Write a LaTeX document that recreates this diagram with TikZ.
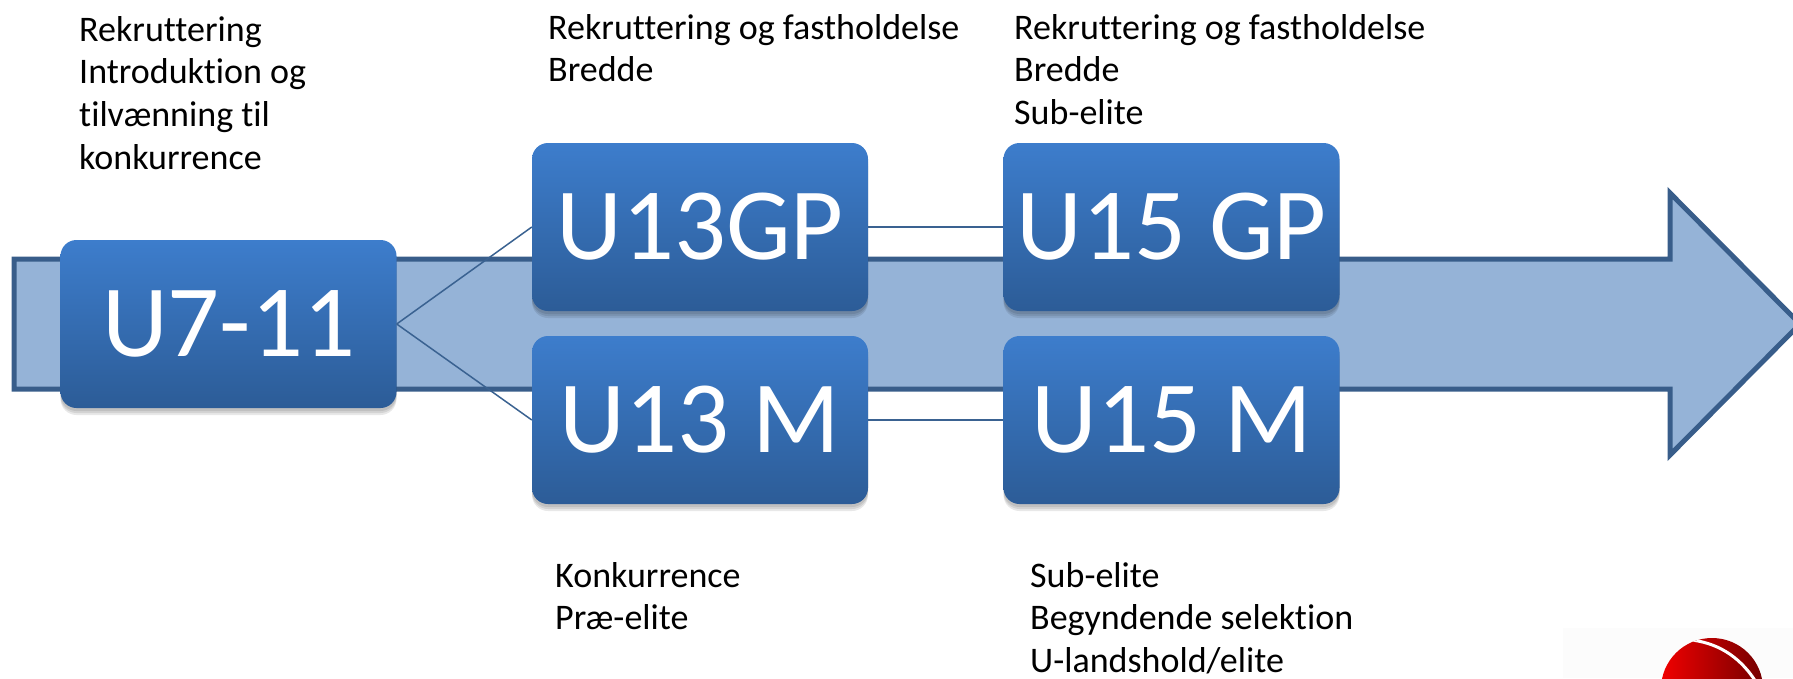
\documentclass[tikz,border=0pt]{standalone}
\usepackage{fontspec}
\setmainfont[Ligatures=NoCommon,Contextuals=NoAlternate]{Carlito}
\usetikzlibrary{shadows}
\definecolor{arrowfill}{HTML}{95B3D7}
\definecolor{arrowline}{HTML}{385D8A}
\definecolor{boxtop}{HTML}{3D7DCC}
\definecolor{boxbot}{HTML}{2C5C97}
\definecolor{linkline}{HTML}{3A6291}
\tikzset{
  softshadow/.style={general shadow={shadow xshift=0pt,shadow yshift=-#1,opacity=.09,fill=black}},
  agebox/.style={rectangle,rounded corners=16pt,minimum width=336pt,minimum height=168pt,inner sep=0pt,
    top color=boxtop,bottom color=boxbot,text=white,font=\fontsize{102.5}{110}\selectfont,
    softshadow=7pt,softshadow=5pt,softshadow=3pt},
  link/.style={draw=linkline,line width=1.5pt},
  note/.style={anchor=north west,align=left,inner sep=0pt,text=black,font=\fontsize{36}{42.6}\selectfont}
}
\begin{document}
\begin{tikzpicture}[x=1pt,y=-1pt]
\useasboundingbox (0,0) rectangle (1793,678);
\clip (0,0) rectangle (1793,678);
% logo
\fill[black!1] (1563,628) rectangle (1793,678);
\begin{scope}
  \clip (1712,689) circle (51);
  \shade[left color=red!95!black,right color=red!45!black] (1660,636) rectangle (1764,742);
  \draw[white,line width=3pt] (1692,640) .. controls (1722,644) and (1742,660) .. (1756,682);
\end{scope}
% big arrow
\draw[arrowline,fill=arrowfill,line width=5pt,miter limit=10]
  (14,259) -- (1670,259) -- (1670,193) -- (1800,324) -- (1670,455) -- (1670,389) -- (14,389) -- cycle;
% boxes
\node[agebox] (u7) at (228.5,324) {U7-11};
\node[agebox] (u13gp) at (700,227) {U13GP};
\node[agebox] (u13m) at (700,420) {U13 M};
\node[agebox] (u15gp) at (1171.5,227) {U15 GP};
\node[agebox] (u15m) at (1171.5,420) {U15 M};
\draw[link] (u7.east) -- (u13gp.west);
\draw[link] (u7.east) -- (u13m.west);
\draw[link] (u13gp.east) -- (u15gp.west);
\draw[link] (u13m.east) -- (u15m.west);
% notes
\node[note] (n1) at (79,16) {Rekruttering\\Introduktion og\\tilvænning til\\konkurrence};
\node[note] (n2) at (548,14) {Rekruttering og fastholdelse\\Bredde};
\node[note] (n3) at (1014,14) {Rekruttering og fastholdelse\\Bredde\\Sub-elite};
\node[note] (n4) at (555,562) {Konkurrence\\Præ-elite};
\node[note] (n5) at (1030,562) {Sub-elite\\Begyndende selektion\\U-landshold/elite};
\end{tikzpicture}
\end{document}
